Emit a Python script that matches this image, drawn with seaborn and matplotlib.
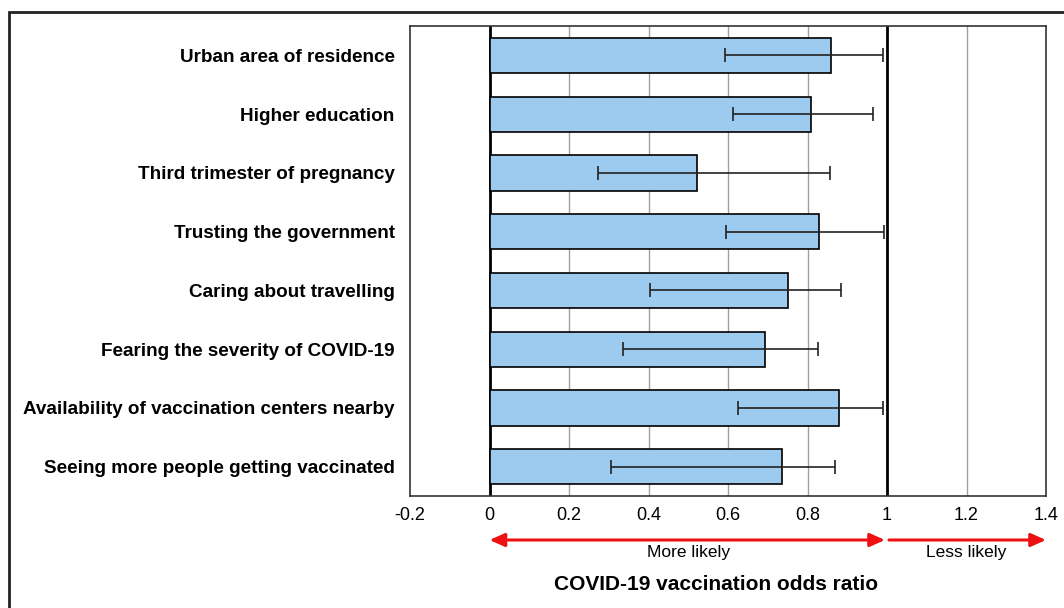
import matplotlib
matplotlib.use("Agg")
import matplotlib.pyplot as plt
import seaborn as sns
import pandas as pd
import numpy as np
from matplotlib.patches import Rectangle, FancyArrowPatch

factors = [
    "Urban area of residence",
    "Higher education",
    "Third trimester of pregnancy",
    "Trusting the government",
    "Caring about travelling",
    "Fearing the severity of COVID-19",
    "Availability of vaccination centers nearby",
    "Seeing more people getting vaccinated",
]
odds_ratio = [0.860, 0.809, 0.522, 0.830, 0.751, 0.694, 0.878, 0.736]
ci_low = [0.592, 0.613, 0.272, 0.595, 0.405, 0.335, 0.625, 0.306]
ci_high = [0.989, 0.965, 0.856, 0.993, 0.884, 0.827, 0.989, 0.869]
x_ticks = [-0.2, 0, 0.2, 0.4, 0.6, 0.8, 1, 1.2, 1.4]
x_tick_labels = ["-0.2", "0", "0.2", "0.4", "0.6", "0.8", "1", "1.2", "1.4"]

sns.set_theme(style="white")
plt.rcParams["font.family"] = ["Liberation Sans", "DejaVu Sans"]
plt.rcParams["text.color"] = "black"
plt.rcParams["xtick.color"] = "black"
plt.rcParams["ytick.color"] = "black"

df = pd.DataFrame({"factor": factors, "or": odds_ratio, "lo": ci_low, "hi": ci_high})

W, H = 1064, 608
fig = plt.figure(figsize=(W / 100, H / 100), dpi=100)
ax = fig.add_axes([410 / W, 1 - 496 / H, (1046 - 410) / W, (496 - 26) / H])

# grid lines
for t in x_ticks[1:-1]:
    if t in (0, 1):
        ax.axvline(t, color="black", lw=2.0, zorder=0.5)
    else:
        ax.axvline(t, color="#a0a0a0", lw=1.0, zorder=0.5)

sns.barplot(data=df, y="factor", x="or", orient="h", color="#9ccbef",
            edgecolor="black", linewidth=1.2, width=0.6, saturation=1,
            errorbar=None, ax=ax, zorder=2)

ypos = np.arange(len(factors))
xerr = np.array([np.array(odds_ratio) - np.array(ci_low),
                 np.array(ci_high) - np.array(odds_ratio)])
ax.errorbar(odds_ratio, ypos, xerr=xerr, fmt="none", ecolor="#222222",
            elinewidth=1.2, capsize=4.8, capthick=1.2, zorder=3)

ax.set_xlim(-0.2, 1.4)
ax.set_ylim(len(factors) - 0.5, -0.5)
ax.set_xticks(x_ticks)
ax.set_xticklabels(x_tick_labels, fontsize=13)
ax.tick_params(axis="x", length=0, pad=8, colors="black")
ax.tick_params(axis="y", length=0, pad=11, colors="black")
for lab in ax.get_yticklabels():
    lab.set_fontweight("bold")
    lab.set_fontsize(13.6)
    lab.set_color("black")
ax.set_xlabel("")
ax.set_ylabel("")
for s in ax.spines.values():
    s.set_color("#333333")
    s.set_linewidth(1.2)

# red arrows below the axis
def fx(v):
    return (410 + (v + 0.2) / 1.6 * (1046 - 410)) / W

ya = 1 - 540 / H
arr1 = FancyArrowPatch((fx(0), ya), (fx(0.995), ya), transform=fig.transFigure,
                       arrowstyle="<|-|>,head_length=9,head_width=4", color="#ee1111",
                       lw=2.2, shrinkA=0, shrinkB=0)
arr2 = FancyArrowPatch((fx(1.005), ya), (fx(1.4), ya), transform=fig.transFigure,
                       arrowstyle="-|>,head_length=9,head_width=4", color="#ee1111",
                       lw=2.2, shrinkA=0, shrinkB=0)
fig.patches.extend([arr1, arr2])
fig.text(fx(0.5), 1 - 553 / H, "More likely", ha="center", va="center", fontsize=12.5)
fig.text(fx(1.2), 1 - 553 / H, "Less likely", ha="center", va="center", fontsize=12.5)
fig.text(716 / W, 1 - 584 / H, "COVID-19 vaccination odds ratio", ha="center",
         va="center", fontsize=15, fontweight="bold")

# outer frame
frame = Rectangle((9 / W, -0.1), 1.2, 1 - 12 / H + 0.1, transform=fig.transFigure,
                  fill=False, edgecolor="#222222", lw=2.0)
fig.patches.append(frame)

fig.savefig("out.png", dpi=100)
